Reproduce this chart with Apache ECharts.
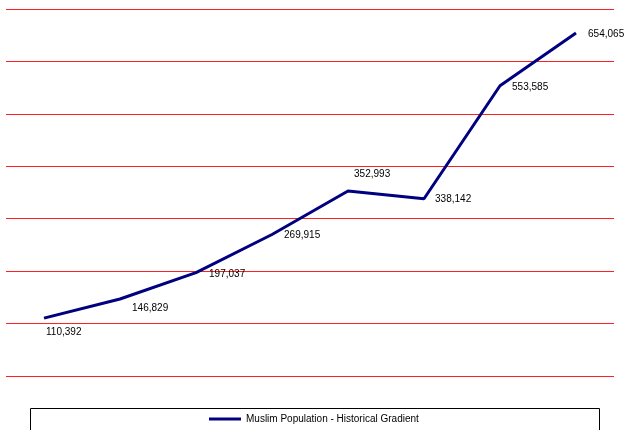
<!DOCTYPE html>
<html>
<head>
<meta charset="utf-8">
<script src="https://cdn.jsdelivr.net/npm/echarts@6/dist/echarts.min.js"></script>
<style>html,body{margin:0;padding:0;background:#fff;}#c{width:624px;height:430px;}</style>
</head>
<body>
<div id="c"></div>
<script>
var categories = ['1', '2', '3', '4', '5', '6', '7', '8'];
var values = [110392, 146829, 197037, 269915, 352993, 338142, 553585, 654065];
var seriesName = 'Muslim Population - Historical Gradient';
var labelOffsets = [[2,14],[12,9],[13,2],[12,1],[6,-17],[11,1],[12,1],[12,1]];

var chart = echarts.init(document.getElementById('c'), null, {renderer: 'canvas'});
var data = values.map(function (v, i) {
  return { value: v, label: { offset: labelOffsets[i] } };
});
chart.setOption({
  animation: false,
  backgroundColor: '#ffffff',
  grid: { left: 6, right: 10, top: 9, bottom: 54, containLabel: false },
  xAxis: {
    type: 'category', data: categories, boundaryGap: true,
    axisLine: { show: false }, axisTick: { show: false }, axisLabel: { show: false },
    splitLine: { show: false }
  },
  yAxis: {
    type: 'value', min: 0, max: 700000, interval: 100000,
    axisLine: { show: false }, axisTick: { show: false }, axisLabel: { show: false },
    splitLine: { show: true, lineStyle: { color: '#ff2020', width: 1 } }
  },
  legend: {
    show: true, left: 204, top: 409,
    itemWidth: 32, itemHeight: 10, itemGap: 6,
    icon: 'path://M0,4L32,4L32,7L0,7Z',
    itemStyle: { color: '#000080', opacity: 1 },
    textStyle: { fontFamily: 'Liberation Sans, Arial, sans-serif', fontSize: 10, color: '#000' },
    data: [seriesName]
  },
  graphic: [{
    type: 'rect', shape: { x: 30.5, y: 408.5, width: 569, height: 30 },
    style: { fill: 'none', stroke: '#000', lineWidth: 1 }, silent: true, z: 0
  }],
  series: [{
    name: seriesName, type: 'line', data: data,
    showSymbol: true, symbol: 'circle', symbolSize: 0.1,
    lineStyle: { color: '#000080', width: 3 },
    itemStyle: { color: '#000080' },
    label: {
      show: true, position: 'right', distance: 0,
      fontFamily: 'Liberation Sans, Arial, sans-serif', fontSize: 10, color: '#000',
      formatter: function (p) { return p.value.toLocaleString('en-US'); }
    }
  }]
});
</script>
</body>
</html>
